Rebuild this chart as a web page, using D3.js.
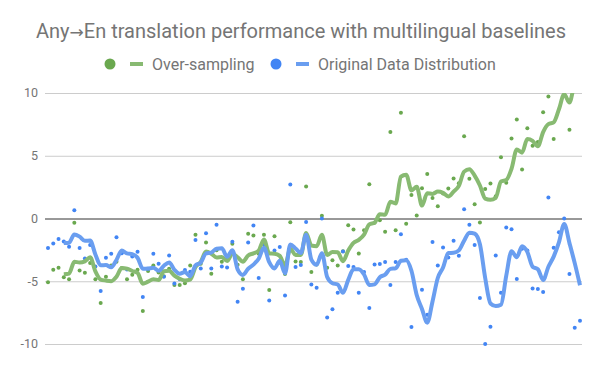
<!DOCTYPE html>
<html>
<head>
<meta charset="utf-8">
<script src="https://cdn.jsdelivr.net/npm/d3@7"></script>
<style>
  body { margin: 0; background: #fff; }
  svg { font-family: Roboto, "Noto Sans", sans-serif; }
</style>
</head>
<body>
<svg id="chart" width="600" height="371"></svg>
<script>
const width = 600;
const height = 371;

const titleParts = ["Any", "→", "En translation performance with multilingual baselines"];
const seriesNames = ["Over-sampling", "Original Data Distribution"];
const yTicks = [-10, -5, 0, 5, 10];

// per-language score deltas (values past ±10 are off-chart)
const overSampling = [
  -5.07, -4.08, -3.93, -4.69, -4.85, -0.34, -4.14, -4.32, -3.55, -4.85,
  -6.74, -4.64, -3.74, -3.45, -3.95, -4.85, -4.48, -4.08, -7.37, -4.19,
  -3.74, -4.3, -4.6, -4.0, -5.3, -5.3, -5.15, -3.74, -1.3, -3.6,
  -1.91, -4.4, -2.52, -3.45, -3.2, -2.02, -3.69, -4.85, -1.22, -1.35,
  -2.79, -1.3, -5.7, -1.41, -3.5, -4.43, -0.29, -3.42, -3.47, 2.55,
  -4.27, -3.66, 0.21, -3.93, -3.32, -3.74, -2.61, -0.53, -0.88, -2.79,
  -0.93, 2.73, -0.34, -0.13, -1.06, 6.9, -0.93, 8.43, -0.42, 1.88,
  0.24, 2.41, 3.55, 1.64, 0.98, 2.0, 2.4, 3.18, 2.81, 6.55,
  3.16, 1.14, -0.32, 2.36, 2.79, 1.77, 4.88, 2.84, 6.37, 7.88,
  3.9, 7.19, 5.8, 6.1, 8.46, 9.73, 6.34, 10.27, 13.26, 7.08,
  12.0, 11.0
];
const originalDist = [
  -2.36, -1.99, -1.64, -1.83, -2.25, 0.66, -2.36, -3.18, -2.12, -3.82,
  -5.78, -3.13, -2.81, -1.49, -2.77, -4.06, -3.02, -2.65, -6.26, -4.0,
  -2.81, -3.61, -4.64, -2.94, -5.17, -4.85, -4.11, -4.24, -1.72, -3.98,
  -1.17, -3.98, -0.5, -3.82, -3.9, -1.86, -6.63, -5.6, -1.91, -0.56,
  -4.75, -2.07, -6.53, -2.55, -2.28, -6.13, 2.7, -3.87, -3.71, -0.27,
  -5.25, -5.52, 0.0, -7.88, -7.24, -5.92, -2.63, -3.79, -3.87, -5.92,
  -4.27, -7.14, -3.66, -3.63, -3.47, -5.3, -3.47, -1.25, -3.29, -8.65,
  -11.2, -5.68, -7.67, -1.88, -3.74, -2.31, -3.1, -1.78, -2.97, 0.74,
  -0.5, -2.12, -6.34, -10.0, -8.62, -2.94, -5.92, -0.72, -0.85, -4.83,
  -2.41, -2.55, -5.57, -5.62, -5.86, 1.67, -2.33, -1.09, 0.0, -4.43,
  -8.7, -8.14
];

const maWindow = 4; // trailing moving-average trendline

const colors = {
  dot: ["#6aa84f", "#4285f4"],
  line: ["#88ba72", "#6a9ef0"]
};

const svg = d3.select("#chart");

const x = d3.scaleLinear()
  .domain([0, overSampling.length - 1])
  .range([48, 580]);

const y = d3.scaleLinear()
  .domain([-10, 10])
  .range([344, 93]);

// === TITLE ===
const titleText = svg.append("text")
  .attr("x", 301)
  .attr("y", 38)
  .attr("text-anchor", "middle")
  .attr("font-size", 20)
  .attr("fill", "#757575");
titleText.append("tspan").text(titleParts[0]);
titleText.append("tspan")
  .attr("font-family", "'DejaVu Sans', sans-serif")
  .attr("font-size", 17)
  .text(titleParts[1]);
titleText.append("tspan").text(titleParts[2]);

// === LEGEND ===
const legendItems = [
  { name: seriesNames[0], cx: 110, i: 0 },
  { name: seriesNames[1], cx: 276, i: 1 }
];
const legend = svg.append("g");
legendItems.forEach(d => {
  legend.append("circle")
    .attr("cx", d.cx)
    .attr("cy", 64)
    .attr("r", 5.5)
    .attr("fill", colors.dot[d.i]);
  legend.append("line")
    .attr("x1", d.cx + 20)
    .attr("x2", d.cx + 33)
    .attr("y1", 64)
    .attr("y2", 64)
    .attr("stroke", colors.line[d.i])
    .attr("stroke-width", 4);
  legend.append("text")
    .attr("x", d.cx + 42)
    .attr("y", 69.5)
    .attr("font-size", 16)
    .attr("fill", "#757575")
    .text(d.name);
});

// === GRID + Y AXIS ===
const grid = svg.append("g");
grid.selectAll("line")
  .data(yTicks)
  .join("line")
  .attr("x1", 45)
  .attr("x2", 582)
  .attr("y1", d => y(d) + 0.5)
  .attr("y2", d => y(d) + 0.5)
  .attr("stroke", d => d === 0 ? "#333" : "#cccccc")
  .attr("stroke-width", 1);

grid.selectAll("text")
  .data(yTicks)
  .join("text")
  .attr("x", 38)
  .attr("y", d => y(d))
  .attr("dy", "0.35em")
  .attr("text-anchor", "end")
  .attr("font-size", 12.5)
  .attr("fill", "#757575")
  .text(d => d);

// === CLIP FOR TRENDLINES ===
svg.append("clipPath")
  .attr("id", "plotClip")
  .append("rect")
  .attr("x", 40)
  .attr("y", 93)
  .attr("width", 550)
  .attr("height", 251);

const series = [overSampling, originalDist];

// === POINTS ===
series.forEach((vals, si) => {
  svg.append("g")
    .selectAll("circle")
    .data(vals.map((v, i) => ({ i, v })).filter(d => d.v >= -10 && d.v <= 10))
    .join("circle")
    .attr("cx", d => x(d.i))
    .attr("cy", d => y(d.v))
    .attr("r", 2)
    .attr("fill", colors.dot[si]);
});

// === MOVING AVERAGE LINES ===
function movingAvg(vals) {
  const out = [];
  for (let i = maWindow - 1; i < vals.length; i++) {
    out.push({ i, v: d3.mean(vals.slice(i - maWindow + 1, i + 1)) });
  }
  return out;
}

const line = d3.line()
  .x(d => x(d.i))
  .y(d => y(d.v))
  .curve(d3.curveMonotoneX);

series.forEach((vals, si) => {
  svg.append("path")
    .datum(movingAvg(vals))
    .attr("clip-path", "url(#plotClip)")
    .attr("fill", "none")
    .attr("stroke", colors.line[si])
    .attr("stroke-width", 4)
    .attr("stroke-linejoin", "round")
    .attr("d", line);
});
</script>
</body>
</html>
